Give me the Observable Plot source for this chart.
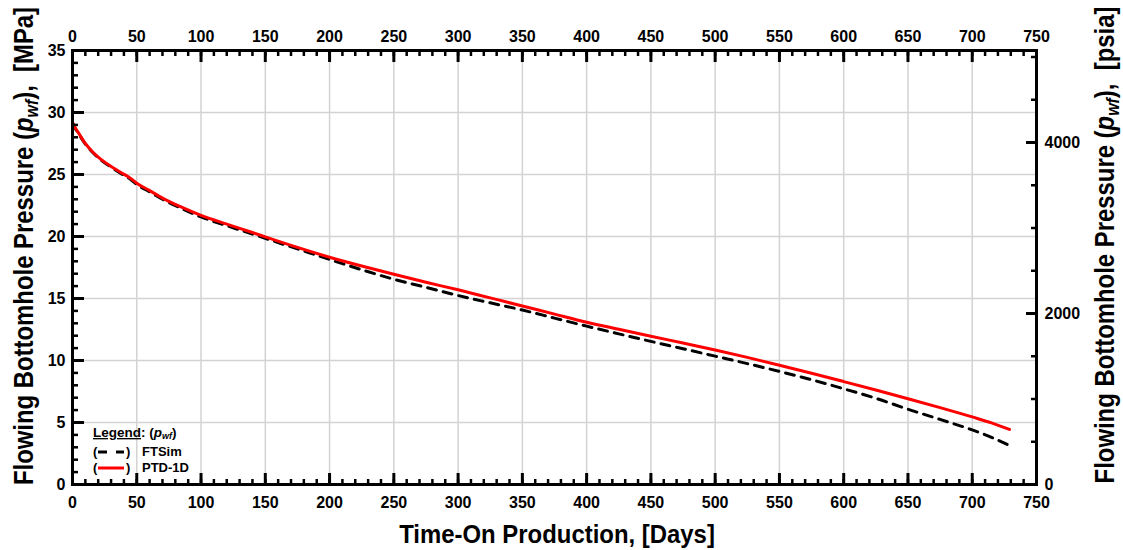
<!DOCTYPE html>
<html>
<head>
<meta charset="utf-8">
<script src="https://cdn.jsdelivr.net/npm/d3@7"></script>
<script src="https://cdn.jsdelivr.net/npm/@observablehq/plot@0.6"></script>
<style>
  html, body { margin: 0; padding: 0; background: #ffffff; }
  #chart { width: 1123px; height: 550px; }
</style>
</head>
<body>
<div id="chart"></div>
<script>
// ---- Data ----
const days = [0, 2, 5, 10, 15, 20, 25, 30, 37, 45, 50, 60, 70, 84, 100, 120, 140, 150, 175,
  200, 225, 250, 275, 300, 325, 350, 375, 400, 425, 450, 475, 500, 525, 550, 575, 600, 625,
  650, 675, 700, 715, 729];
const ptd1d = [29.2, 28.8, 28.3, 27.5, 26.9, 26.4, 26.0, 25.65, 25.2, 24.7, 24.3, 23.7, 23.1, 22.4,
  21.7, 21.0, 20.32, 19.97, 19.12, 18.33, 17.62, 16.95, 16.31, 15.7, 15.05, 14.4, 13.74, 13.09, 12.52,
  11.96, 11.41, 10.85, 10.25, 9.62, 8.97, 8.3, 7.62, 6.92, 6.2, 5.45, 4.97, 4.44];
const ftsim = [29.15, 28.75, 28.25, 27.45, 26.85, 26.35, 25.95, 25.6, 25.12, 24.62, 24.2, 23.6, 23.0, 22.3,
  21.58, 20.87, 20.2, 19.85, 19.0, 18.15, 17.32, 16.55, 15.9, 15.24, 14.65, 14.07, 13.42, 12.77, 12.15,
  11.54, 10.95, 10.35, 9.75, 9.12, 8.45, 7.72, 6.95, 6.07, 5.25, 4.4, 3.8, 3.15];

const xMajor = d3.range(0, 751, 50);
const xMinor = d3.range(0, 751, 10);
const yMajor = d3.range(0, 36, 5);
const yMinor = d3.range(0, 36, 1);
const PSI_TO_MPA = 0.00689476;
const psiMinor = d3.range(0, 5001, 500);
const psiMajor = [0, 2000, 4000];

const seriesFT = days.map((d, i) => ({day: d, p: ftsim[i]}));
const seriesPTD = days.map((d, i) => ({day: d, p: ptd1d[i]}));

const FONT = "'Liberation Sans', Arial, Helvetica, sans-serif";

const chart = Plot.plot({
  width: 1123,
  height: 550,
  marginLeft: 72,
  marginRight: 87,
  marginTop: 50,
  marginBottom: 66,
  x: {domain: [0, 750]},
  y: {domain: [0, 35]},
  style: {fontFamily: FONT, fontSize: "16px", fontWeight: "bold", background: "#ffffff", color: "#000"},
  marks: [
    Plot.gridX(xMajor, {stroke: "#d3d3d3", strokeOpacity: 1, strokeWidth: 1.5}),
    Plot.gridY(yMajor, {stroke: "#d3d3d3", strokeOpacity: 1, strokeWidth: 1.5}),
    Plot.line(seriesFT, {x: "day", y: "p", stroke: "#000000", strokeWidth: 3, strokeDasharray: "9,7", curve: "monotone-x"}),
    Plot.line(seriesPTD, {x: "day", y: "p", stroke: "#ff0000", strokeWidth: 3, curve: "monotone-x"}),
    // bottom axis (ticks inward)
    Plot.axisX({anchor: "bottom", ticks: xMinor, tickSize: 5, dy: -5, strokeWidth: 2.5, text: null, label: null}),
    Plot.axisX({anchor: "bottom", ticks: xMajor, tickSize: 11, dy: -11, strokeWidth: 3, text: null, label: null}),
    Plot.axisX({anchor: "bottom", ticks: xMajor, tickSize: 0, tickPadding: 12, label: null}),
    // top axis
    Plot.axisX({anchor: "top", ticks: xMinor, tickSize: 5, dy: 5, strokeWidth: 2.5, text: null, label: null}),
    Plot.axisX({anchor: "top", ticks: xMajor, tickSize: 11, dy: 11, strokeWidth: 3, text: null, label: null}),
    Plot.axisX({anchor: "top", ticks: xMajor, tickSize: 0, tickPadding: 9, label: null}),
    // left axis
    Plot.axisY({anchor: "left", ticks: yMinor, tickSize: 6, dx: 6, strokeWidth: 2.5, text: null, label: null}),
    Plot.axisY({anchor: "left", ticks: yMajor, tickSize: 12, dx: 12, strokeWidth: 3, text: null, label: null}),
    Plot.axisY({anchor: "left", ticks: yMajor, tickSize: 0, tickPadding: 7, label: null}),
    // right axis (psia)
    Plot.axisY({anchor: "right", ticks: psiMinor.map(v => v * PSI_TO_MPA), tickSize: 6, dx: -6, strokeWidth: 2.5, text: null, label: null}),
    Plot.axisY({anchor: "right", ticks: psiMajor.map(v => v * PSI_TO_MPA), tickSize: 11, dx: -11, strokeWidth: 3, text: null, label: null}),
    Plot.axisY({anchor: "right", ticks: psiMajor.map(v => v * PSI_TO_MPA), tickSize: 0, tickPadding: 8,
      tickFormat: v => String(Math.round(v / PSI_TO_MPA)), label: null}),
    Plot.frame({stroke: "#000000", strokeWidth: 3})
  ]
});

document.getElementById("chart").appendChild(chart);

// ---- Titles and legend as real text ----
const svg = d3.select(chart);

function rotatedTitle(x, y, unit) {
  const t = svg.append("text")
    .attr("transform", `translate(${x},${y}) rotate(-90) scale(0.885,1)`)
    .attr("text-anchor", "middle")
    .attr("font-family", FONT)
    .attr("font-weight", "bold")
    .attr("font-size", 27)
    .attr("fill", "#000");
  t.append("tspan").text("Flowing Bottomhole Pressure (");
  t.append("tspan").attr("font-style", "italic").text("p");
  t.append("tspan").attr("font-style", "italic").attr("font-size", 18).attr("dy", 5).text("wf");
  t.append("tspan").attr("dy", -5).text(`),\u00a0 [${unit}]`);
}
rotatedTitle(33, 246, "MPa");
rotatedTitle(1114, 245, "psia");

svg.append("text")
  .attr("transform", "translate(557,543) scale(0.92,1)")
  .attr("text-anchor", "middle")
  .attr("font-family", FONT)
  .attr("font-weight", "bold")
  .attr("font-size", 26)
  .attr("fill", "#000")
  .text("Time-On Production, [Days]");

// Legend
const lg = svg.append("g").attr("font-family", FONT).attr("font-size", 13)
  .attr("fill", "#000").attr("text-anchor", "start");
const head = lg.append("text").attr("x", 93).attr("y", 437).attr("font-weight", "bold").attr("font-size", 13.5);
head.append("tspan").attr("text-decoration", "underline").text("Legend");
head.append("tspan").text(": (");
head.append("tspan").attr("font-style", "italic").text("p");
head.append("tspan").attr("font-style", "italic").attr("font-size", 9).attr("dy", 2).text("wf");
head.append("tspan").attr("dy", -2).text(")");

const legendItems = [
  {label: "FTSim", y: 456, stroke: "#000000", dash: "9,9"},
  {label: "PTD-1D", y: 472, stroke: "#ff0000", dash: null}
];
legendItems.forEach(it => {
  lg.append("text").attr("x", 93).attr("y", it.y).attr("font-weight", "bold").text("(");
  lg.append("text").attr("x", 126).attr("y", it.y).attr("font-weight", "bold").text(")");
  lg.append("text").attr("x", 142).attr("y", it.y).text(it.label);
  const ln = lg.append("line")
    .attr("x1", 98).attr("x2", 124)
    .attr("y1", it.y - 4).attr("y2", it.y - 4)
    .attr("stroke", it.stroke).attr("stroke-width", 3);
  if (it.dash) ln.attr("stroke-dasharray", it.dash);
});
</script>
</body>
</html>
